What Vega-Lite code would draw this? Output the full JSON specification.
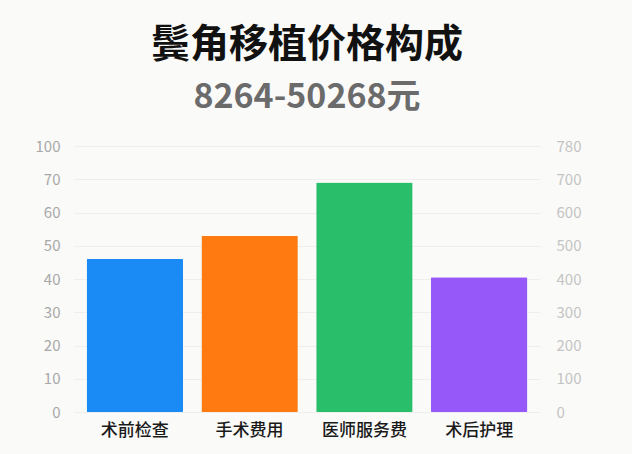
{
  "$schema": "https://vega.github.io/schema/vega-lite/v6.json",
  "autosize": {"type": "none"},
  "padding": {"left": 74, "top": 146, "right": 92, "bottom": 42},
  "width": 466,
  "height": 266,
  "background": "#fafaf8",
  "title": {
    "text": "鬓角移植价格构成",
    "subtitle": "8264-50268元",
    "anchor": "middle",
    "font": "Noto Sans CJK SC",
    "fontSize": 39,
    "fontWeight": "bold",
    "color": "#111111",
    "subtitleFont": "Noto Sans CJK SC",
    "subtitleFontSize": 34,
    "subtitleFontWeight": "bold",
    "subtitleColor": "#6b6b6b",
    "subtitlePadding": 16,
    "offset": 24
  },
  "data": {
    "values": [
      {"item": "术前检查", "value": 46},
      {"item": "手术费用", "value": 53},
      {"item": "医师服务费", "value": 69},
      {"item": "术后护理", "value": 40.5}
    ]
  },
  "config": {
    "view": {"stroke": null},
    "axis": {"domain": false, "ticks": false, "labelFont": "Noto Sans CJK SC"}
  },
  "encoding": {
    "x": {
      "field": "item",
      "type": "nominal",
      "sort": null,
      "scale": {"paddingInner": 0.16, "paddingOuter": 0.11},
      "axis": {"title": null, "labelAngle": 0, "labelFontSize": 17, "labelColor": "#1a1a1a", "labelPadding": 10, "labelFontWeight": 500}
    }
  },
  "layer": [
    {
      "mark": {"type": "bar", "cornerRadius": 1},
      "encoding": {
        "y": {
          "field": "value",
          "type": "quantitative",
          "scale": {"domain": [0, 80], "nice": false},
          "axis": {
            "title": null,
            "values": [0, 10, 20, 30, 40, 50, 60, 70, 80],
            "labelExpr": "datum.value == 80 ? '100' : datum.label",
            "labelFontSize": 15,
            "labelColor": "#a8a8a8",
            "labelPadding": 14,
            "gridColor": "#eeeeee",
            "gridWidth": 1
          }
        },
        "color": {
          "field": "item",
          "type": "nominal",
          "sort": null,
          "scale": {"range": ["#1a8af5", "#ff7a10", "#29be6a", "#9658f8"]},
          "legend": null
        }
      }
    },
    {
      "mark": {"type": "bar", "opacity": 0},
      "encoding": {
        "y": {
          "field": "value",
          "type": "quantitative",
          "scale": {"domain": [0, 80], "nice": false},
          "axis": {
            "title": null,
            "orient": "right",
            "grid": false,
            "values": [0, 10, 20, 30, 40, 50, 60, 70, 80],
            "labelExpr": "datum.value == 80 ? '780' : format(datum.value * 10, 'd')",
            "labelFontSize": 15,
            "labelColor": "#c4c4c4",
            "labelPadding": 16
          }
        }
      }
    }
  ],
  "resolve": {"scale": {"y": "independent"}}
}
